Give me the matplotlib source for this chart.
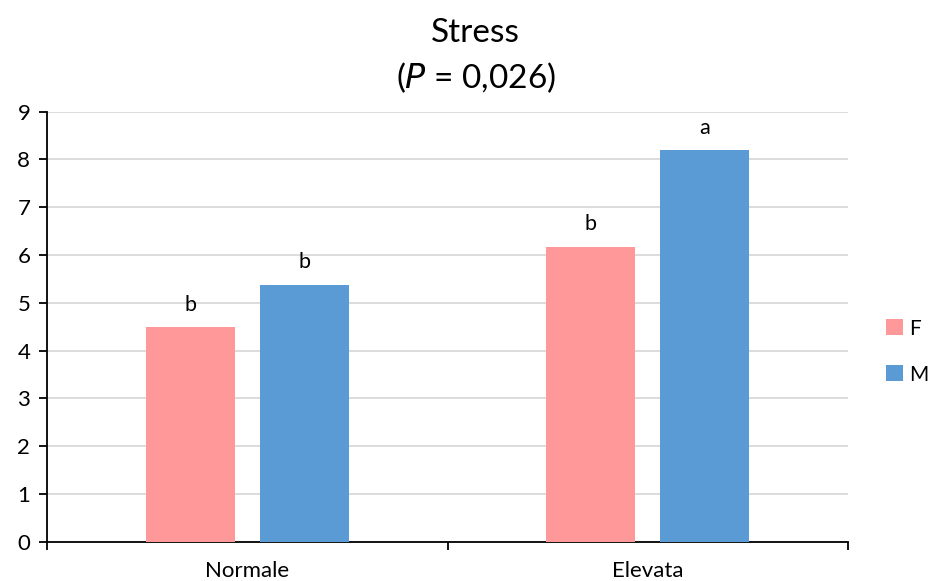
import matplotlib
matplotlib.use("Agg")
import matplotlib.pyplot as plt
import numpy as np

categories = ["Normale", "Elevata"]
series_names = ["F", "M"]
values_f = [4.49, 6.17]
values_m = [5.38, 8.19]
letters_f = ["b", "b"]
letters_m = ["b", "a"]
y_ticks = list(range(0, 10))

plt.rcParams['font.family'] = ['Lato', 'DejaVu Sans']

fig = plt.figure(figsize=(9.31, 5.81), dpi=100)
ax = fig.add_axes([47 / 931, 1 - 541.7 / 581, (848 - 47) / 931, (541.7 - 111.7) / 581])

x = np.arange(len(categories))
width = 0.2225
offset = 0.1425
col_f = "#FF9999"
col_m = "#5B9BD5"

bars_f = ax.bar(x - offset, values_f, width, color=col_f, label=series_names[0], zorder=3)
bars_m = ax.bar(x + offset, values_m, width, color=col_m, label=series_names[1], zorder=3)

for bars, labels in ((bars_f, letters_f), (bars_m, letters_m)):
    for b, lab in zip(bars, labels):
        ax.annotate(lab, (b.get_x() + b.get_width() / 2, b.get_height()),
                    xytext=(0, 9), textcoords="offset points",
                    ha="center", va="bottom", fontsize=15.5, color="#000000")

ax.set_xlim(-0.5, len(categories) - 0.5)
ax.set_ylim(0, 9)
ax.set_yticks(y_ticks)
ax.set_yticklabels([str(t) for t in y_ticks], fontsize=16)
ax.yaxis.grid(True, color="#d9d9d9", linewidth=1.3, zorder=0)
ax.set_axisbelow(True)

# category labels centred, ticks at category boundaries
ax.set_xticks(x)
ax.set_xticklabels(categories, fontsize=16)
ax.tick_params(axis="x", which="major", length=0, pad=14)
ax.set_xticks(np.arange(-0.5, len(categories)), minor=True)
ax.tick_params(axis="x", which="minor", length=6, width=1.3, direction="out")
ax.tick_params(axis="y", length=6, width=1.3, direction="out", pad=6)

for side in ("top", "right"):
    ax.spines[side].set_visible(False)
for side in ("left", "bottom"):
    ax.spines[side].set_linewidth(1.3)
    ax.spines[side].set_color("#000000")

fig.text(0.511, 0.943, "Stress", ha="center", va="center", fontsize=24)
fig.text(0.511, 0.867, r"($\it{P}$ = 0,026)", ha="center", va="center", fontsize=24)

ax.legend(loc="center left", bbox_to_anchor=(1.048, 0.442), frameon=False,
          fontsize=15, handlelength=0.8, handleheight=0.8,
          handletextpad=0.3, labelspacing=1.25, borderpad=0, borderaxespad=0)

fig.savefig("out.png", dpi=100)
